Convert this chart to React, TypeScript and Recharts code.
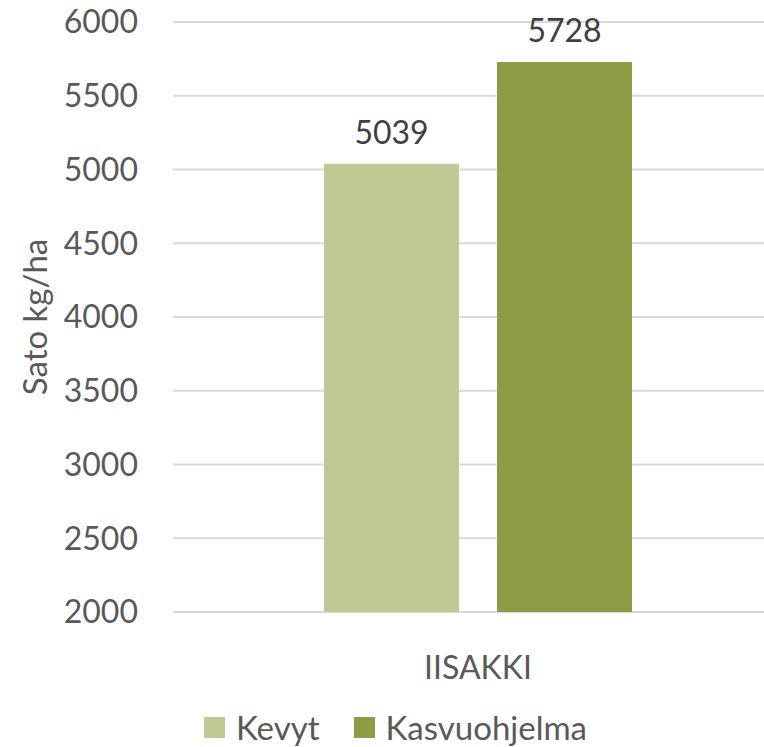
import React from 'react';
import { BarChart, Bar, XAxis, YAxis, CartesianGrid, Legend, LabelList, Label } from 'recharts';

const categories = ['IISAKKI'];
const kevyt = [5039];
const kasvuohjelma = [5728];
const yTicks = [2000, 2500, 3000, 3500, 4000, 4500, 5000, 5500, 6000];
const seriesNames = ['Kevyt', 'Kasvuohjelma'];
const seriesColors = ['#BFC994', '#8E9C45'];

const data = categories.map((c, i) => ({ name: c, kevyt: kevyt[i], kasvuohjelma: kasvuohjelma[i] }));

const FONT = 'Lato, "DejaVu Sans", sans-serif';

const LegendContent = () => (
  <div style={{ height: 50, boxSizing: 'border-box', paddingTop: 10, display: 'flex', alignItems: 'center', paddingLeft: 204, fontFamily: FONT, fontSize: 33, color: '#595959' }}>
    {seriesNames.map((n, i) => (
      <div key={n} style={{ display: 'flex', alignItems: 'center', marginRight: i === 0 ? 34 : 0 }}>
        <div style={{ width: 21, height: 21, background: seriesColors[i], marginRight: 11 }} />
        <span>{n}</span>
      </div>
    ))}
  </div>
);

export default function App() {
  return (
    <div style={{ position: 'absolute', left: 0, top: 0, width: 764, height: 747, overflow: 'hidden', background: '#fff' }}>
      <BarChart width={800} height={747} data={data} margin={{ top: 22, right: 17, left: 0, bottom: 0 }} barSize={135} barGap={38}>
        <CartesianGrid vertical={false} stroke="#D9D9D9" strokeWidth={2} />
        <XAxis dataKey="name" axisLine={false} tickLine={false} height={85} tickMargin={38}
          tick={{ fontSize: 32, fill: '#595959', fontFamily: FONT }} />
        <YAxis width={173} domain={[2000, 6000]} ticks={yTicks} axisLine={false} tickLine={false} tickMargin={29}
          tick={{ fontSize: 32, fill: '#595959', fontFamily: FONT }} allowDataOverflow>
          <Label content={(props: any) => {
            const vb = props.viewBox || {};
            const cy = vb.y + vb.height / 2;
            return (
              <text x={47} y={cy} transform={`rotate(-90 47 ${cy})`} textAnchor="middle" fontSize={33} fill="#595959" fontFamily={FONT}>
                Sato kg/ha
              </text>
            );
          }} />
        </YAxis>
        <Legend verticalAlign="bottom" content={<LegendContent />} wrapperStyle={{ left: 0, width: 800 }} />
        <Bar dataKey="kevyt" name={seriesNames[0]} fill={seriesColors[0]} isAnimationActive={false}>
          <LabelList dataKey="kevyt" position="top" offset={20} style={{ fontSize: 32, fill: '#404040', fontFamily: FONT }} />
        </Bar>
        <Bar dataKey="kasvuohjelma" name={seriesNames[1]} fill={seriesColors[1]} isAnimationActive={false}>
          <LabelList dataKey="kasvuohjelma" position="top" offset={20} style={{ fontSize: 32, fill: '#404040', fontFamily: FONT }} />
        </Bar>
      </BarChart>
    </div>
  );
}
